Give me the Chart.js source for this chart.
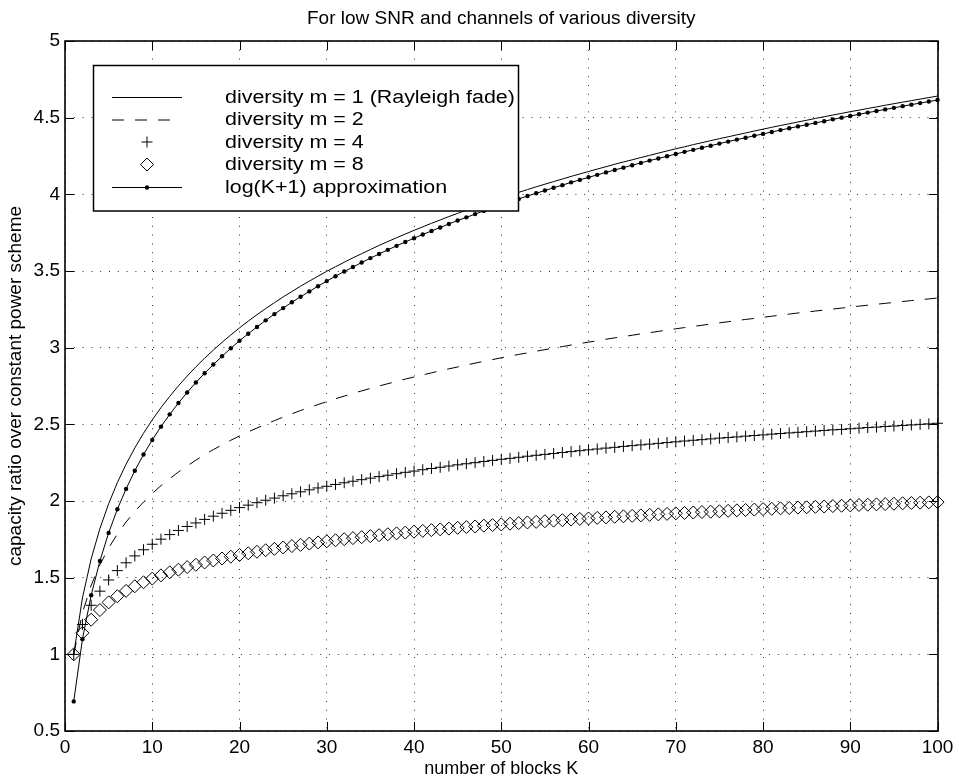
<!DOCTYPE html>
<html>
<head>
<meta charset="utf-8">
<script src="https://cdn.jsdelivr.net/npm/chart.js@4/dist/chart.umd.min.js"></script>
<style>
  html, body { margin: 0; padding: 0; background: #ffffff; }
  #c { display: block; }
</style>
</head>
<body>
<canvas id="c" width="959" height="780"></canvas>
<script>
// ---------------- data ----------------
const blocksK = [1,2,3,4,5,6,7,8,9,10,11,12,13,14,15,16,17,18,19,20,
  21,22,23,24,25,26,27,28,29,30,31,32,33,34,35,36,37,38,39,40,
  41,42,43,44,45,46,47,48,49,50,51,52,53,54,55,56,57,58,59,60,
  61,62,63,64,65,66,67,68,69,70,71,72,73,74,75,76,77,78,79,80,
  81,82,83,84,85,86,87,88,89,90,91,92,93,94,95,96,97,98,99,100];

const diversity1 = [1.000,1.368,1.623,1.820,1.982,2.120,2.240,2.346,2.442,2.529,
  2.609,2.682,2.751,2.815,2.875,2.931,2.984,3.035,3.083,3.129,
  3.173,3.215,3.255,3.293,3.331,3.366,3.401,3.434,3.466,3.498,
  3.528,3.557,3.586,3.613,3.640,3.667,3.692,3.717,3.741,3.765,
  3.788,3.811,3.833,3.855,3.876,3.897,3.917,3.937,3.956,3.976,
  3.994,4.013,4.031,4.049,4.066,4.083,4.100,4.117,4.133,4.149,
  4.165,4.180,4.196,4.211,4.225,4.240,4.254,4.269,4.283,4.297,
  4.310,4.324,4.337,4.350,4.363,4.375,4.388,4.400,4.413,4.425,
  4.437,4.449,4.460,4.472,4.483,4.495,4.506,4.517,4.528,4.539,
  4.549,4.560,4.570,4.581,4.591,4.601,4.611,4.621,4.631,4.641];

const diversity2 = [1.000,1.271,1.450,1.584,1.693,1.784,1.863,1.932,1.993,2.049,
  2.100,2.146,2.189,2.229,2.266,2.302,2.335,2.366,2.396,2.424,
  2.451,2.476,2.501,2.524,2.547,2.569,2.590,2.610,2.629,2.648,
  2.667,2.684,2.702,2.718,2.734,2.750,2.765,2.780,2.795,2.809,
  2.822,2.836,2.849,2.862,2.874,2.887,2.899,2.911,2.922,2.934,
  2.945,2.956,2.966,2.977,2.987,2.997,3.007,3.017,3.027,3.036,
  3.045,3.055,3.064,3.072,3.081,3.090,3.098,3.106,3.115,3.123,
  3.131,3.139,3.146,3.154,3.162,3.169,3.177,3.184,3.191,3.198,
  3.205,3.212,3.219,3.226,3.232,3.239,3.245,3.252,3.258,3.265,
  3.271,3.277,3.283,3.289,3.295,3.301,3.307,3.313,3.318,3.324];

const diversity4 = [1.000,1.195,1.320,1.412,1.485,1.546,1.597,1.642,1.682,1.718,
  1.751,1.781,1.808,1.834,1.857,1.880,1.901,1.920,1.939,1.957,
  1.973,1.989,2.005,2.019,2.034,2.047,2.060,2.073,2.085,2.096,
  2.108,2.119,2.129,2.139,2.149,2.159,2.168,2.178,2.187,2.195,
  2.204,2.212,2.220,2.228,2.236,2.243,2.250,2.258,2.265,2.272,
  2.278,2.285,2.292,2.298,2.304,2.310,2.316,2.322,2.328,2.334,
  2.339,2.345,2.350,2.356,2.361,2.366,2.371,2.376,2.381,2.386,
  2.391,2.396,2.400,2.405,2.410,2.414,2.418,2.423,2.427,2.431,
  2.436,2.440,2.444,2.448,2.452,2.456,2.460,2.464,2.467,2.471,
  2.475,2.479,2.482,2.486,2.489,2.493,2.496,2.500,2.503,2.507];

const diversity8 = [1.000,1.140,1.226,1.289,1.339,1.379,1.414,1.444,1.470,1.494,
  1.515,1.535,1.552,1.569,1.584,1.599,1.612,1.625,1.637,1.648,
  1.659,1.669,1.679,1.688,1.697,1.706,1.714,1.722,1.730,1.737,
  1.744,1.751,1.758,1.764,1.771,1.777,1.783,1.789,1.794,1.800,
  1.805,1.810,1.815,1.820,1.825,1.830,1.834,1.839,1.843,1.847,
  1.852,1.856,1.860,1.864,1.868,1.872,1.875,1.879,1.883,1.886,
  1.890,1.893,1.897,1.900,1.903,1.906,1.910,1.913,1.916,1.919,
  1.922,1.925,1.928,1.930,1.933,1.936,1.939,1.941,1.944,1.947,
  1.949,1.952,1.954,1.957,1.959,1.962,1.964,1.967,1.969,1.971,
  1.974,1.976,1.978,1.980,1.982,1.985,1.987,1.989,1.991,1.993];

const logApprox = [0.693,1.099,1.386,1.609,1.792,1.946,2.079,2.197,2.303,2.398,
  2.485,2.565,2.639,2.708,2.773,2.833,2.890,2.944,2.996,3.045,
  3.091,3.135,3.178,3.219,3.258,3.296,3.332,3.367,3.401,3.434,
  3.466,3.497,3.526,3.555,3.584,3.611,3.638,3.664,3.689,3.714,
  3.738,3.761,3.784,3.807,3.829,3.850,3.871,3.892,3.912,3.932,
  3.951,3.970,3.989,4.007,4.025,4.043,4.060,4.078,4.094,4.111,
  4.127,4.143,4.159,4.174,4.190,4.205,4.220,4.234,4.248,4.263,
  4.277,4.290,4.304,4.317,4.331,4.344,4.357,4.369,4.382,4.394,
  4.407,4.419,4.431,4.443,4.454,4.466,4.477,4.489,4.500,4.511,
  4.522,4.533,4.543,4.554,4.564,4.575,4.585,4.595,4.605,4.615];

const xTickValues = [0,10,20,30,40,50,60,70,80,90,100];
const yTickValues = [0.5,1,1.5,2,2.5,3,3.5,4,4.5,5];
const yTickLabels = ['0.5','1','1.5','2','2.5','3','3.5','4','4.5','5'];

const seriesNames = ['diversity m = 1 (Rayleigh fade)', 'diversity m = 2',
  'diversity m = 4', 'diversity m = 8', 'log(K+1) approximation'];
const chartTitle = 'For low SNR and channels of various diversity';
const xAxisTitle = 'number of blocks K';
const yAxisTitle = 'capacity ratio over constant power scheme';

// ---------------- styling ----------------
const FONT = '"Liberation Sans", Arial, Helvetica, sans-serif';
const DASH = [12, 11];
const PLUS_R = 5.5;
const DIAMOND_R = 6.5;

function pairs(ys) { return blocksK.map((k, i) => ({ x: k, y: ys[i] })); }

// ---------------- frame, inner ticks and legend (MATLAB look) ----------------
const matlabFrame = {
  id: 'matlabFrame',
  afterDraw(chart) {
    const ctx = chart.ctx;
    const xs = chart.scales.x, ys = chart.scales.y;
    const L = Math.round(xs.getPixelForValue(0));
    const R = Math.round(xs.getPixelForValue(100));
    const T = Math.round(ys.getPixelForValue(5));
    const B = Math.round(ys.getPixelForValue(0.5));
    ctx.save();
    ctx.strokeStyle = '#000';
    ctx.lineWidth = 1;
    ctx.beginPath();
    xTickValues.forEach(v => {
      const px = Math.round(xs.getPixelForValue(v)) + 0.5;
      ctx.moveTo(px, B); ctx.lineTo(px, B - 9);
      ctx.moveTo(px, T); ctx.lineTo(px, T + 9);
    });
    yTickValues.forEach(v => {
      const py = Math.round(ys.getPixelForValue(v)) + 0.5;
      ctx.moveTo(L, py); ctx.lineTo(L + 9, py);
      ctx.moveTo(R, py); ctx.lineTo(R - 9, py);
    });
    ctx.stroke();
    ctx.lineWidth = 1.6;
    ctx.strokeRect(L, T, R - L, B - T);

    // legend
    const bx = 93.5, by = 65.5, bw = 425, bh = 145.5;
    ctx.fillStyle = '#fff';
    ctx.fillRect(bx, by, bw, bh);
    ctx.lineWidth = 1.5;
    ctx.strokeRect(bx, by, bw, bh);
    const rows = [97, 119.5, 142, 164.5, 187];
    const s0 = 112, s1 = 182, sm = 147;
    ctx.lineWidth = 1;
    ctx.beginPath(); ctx.moveTo(s0, rows[0] + 0.5); ctx.lineTo(s1, rows[0] + 0.5); ctx.stroke();
    ctx.setLineDash(DASH);
    ctx.beginPath(); ctx.moveTo(s0, rows[1] + 0.5); ctx.lineTo(s1 - 1, rows[1] + 0.5); ctx.stroke();
    ctx.setLineDash([]);
    ctx.beginPath();
    ctx.moveTo(sm, rows[2] - PLUS_R); ctx.lineTo(sm, rows[2] + PLUS_R);
    ctx.moveTo(sm - PLUS_R, rows[2]); ctx.lineTo(sm + PLUS_R, rows[2]);
    ctx.stroke();
    ctx.beginPath();
    ctx.moveTo(sm - DIAMOND_R, rows[3]); ctx.lineTo(sm, rows[3] - DIAMOND_R);
    ctx.lineTo(sm + DIAMOND_R, rows[3]); ctx.lineTo(sm, rows[3] + DIAMOND_R);
    ctx.closePath(); ctx.stroke();
    ctx.beginPath(); ctx.moveTo(s0, rows[4] + 0.5); ctx.lineTo(s1, rows[4] + 0.5); ctx.stroke();
    ctx.fillStyle = '#000';
    ctx.beginPath(); ctx.arc(sm, rows[4] + 0.5, 2.2, 0, Math.PI * 2); ctx.fill();
    ctx.font = '18px ' + FONT;
    ctx.textBaseline = 'middle';
    ctx.textAlign = 'left';
    seriesNames.forEach((t, i) => {
      ctx.save();
      ctx.translate(225, rows[i] + 1);
      ctx.scale(1.19, 1);
      ctx.fillText(t, 0, 0);
      ctx.restore();
    });
    ctx.restore();
  }
};

// ---------------- chart ----------------
new Chart(document.getElementById('c'), {
  type: 'line',
  data: {
    datasets: [
      { label: seriesNames[0], data: pairs(diversity1), xAxisID: 'x', yAxisID: 'y',
        borderColor: '#000', borderWidth: 1, pointRadius: 0, fill: false, clip: false, order: 1 },
      { label: seriesNames[1], data: pairs(diversity2), xAxisID: 'x', yAxisID: 'y',
        borderColor: '#000', borderWidth: 1, borderDash: DASH, pointRadius: 0, fill: false,
        clip: false, order: 2 },
      { label: seriesNames[2], data: pairs(diversity4), xAxisID: 'x', yAxisID: 'y',
        showLine: false, pointStyle: 'cross', pointRadius: PLUS_R, pointBorderWidth: 1,
        pointBorderColor: '#000', borderColor: '#000', clip: false, order: 3 },
      { label: seriesNames[3], data: pairs(diversity8), xAxisID: 'x', yAxisID: 'y',
        showLine: false, pointStyle: 'rectRot', pointRadius: DIAMOND_R, pointBorderWidth: 1,
        pointBorderColor: '#000', pointBackgroundColor: 'rgba(0,0,0,0)', borderColor: '#000',
        clip: false, order: 4 },
      { label: seriesNames[4], data: pairs(logApprox), xAxisID: 'x', yAxisID: 'y',
        borderColor: '#000', borderWidth: 1, pointStyle: 'circle', pointRadius: 2.2,
        pointBackgroundColor: '#000', pointBorderWidth: 0, fill: false, clip: false, order: 0 }
    ]
  },
  options: {
    responsive: false,
    animation: false,
    events: [],
    layout: { padding: { left: 0, right: 19, top: 0, bottom: 0 } },
    plugins: {
      legend: { display: false },
      tooltip: { enabled: false },
      title: { display: false }
    },
    scales: {
      x: {
        type: 'linear', axis: 'x', position: 'bottom', min: 0, max: 100,
        afterBuildTicks: s => { s.ticks = xTickValues.map(v => ({ value: v })); },
        afterFit: s => { s.height = 49; },
        ticks: { color: '#000', font: { family: FONT, size: 19 }, padding: 5.6, maxRotation: 0, autoSkip: false },
        grid: { color: '#333', lineWidth: 1, drawTicks: false },
        border: { display: false, dash: [1, 7.8] },
        title: { display: true, text: xAxisTitle, color: '#000',
          font: { family: FONT, size: 18 }, padding: { top: 0, bottom: 0.2 } }
      },
      xTop: {
        type: 'linear', axis: 'x', position: 'top', min: 0, max: 100,
        afterFit: s => { s.height = 41; },
        ticks: { display: false },
        grid: { display: false, drawTicks: false },
        border: { display: false },
        title: { display: true, text: chartTitle, color: '#000',
          font: { family: FONT, size: 19 }, padding: { top: 7.6, bottom: 0 } }
      },
      y: {
        type: 'linear', axis: 'y', position: 'left', min: 0.5, max: 5,
        afterBuildTicks: s => { s.ticks = yTickValues.map(v => ({ value: v })); },
        afterFit: s => { s.width = 65; },
        ticks: { color: '#000', font: { family: FONT, size: 19 }, padding: 5,
          callback: v => { const i = yTickValues.indexOf(v); return i >= 0 ? yTickLabels[i] : String(v); } },
        grid: { color: '#333', lineWidth: 1, drawTicks: false },
        border: { display: false, dash: [1, 7.8] },
        title: { display: true, text: yAxisTitle, color: '#000',
          font: { family: FONT, size: 19 }, padding: { top: 4.1, bottom: 0 } }
      }
    }
  },
  plugins: [matlabFrame]
});
</script>
</body>
</html>
